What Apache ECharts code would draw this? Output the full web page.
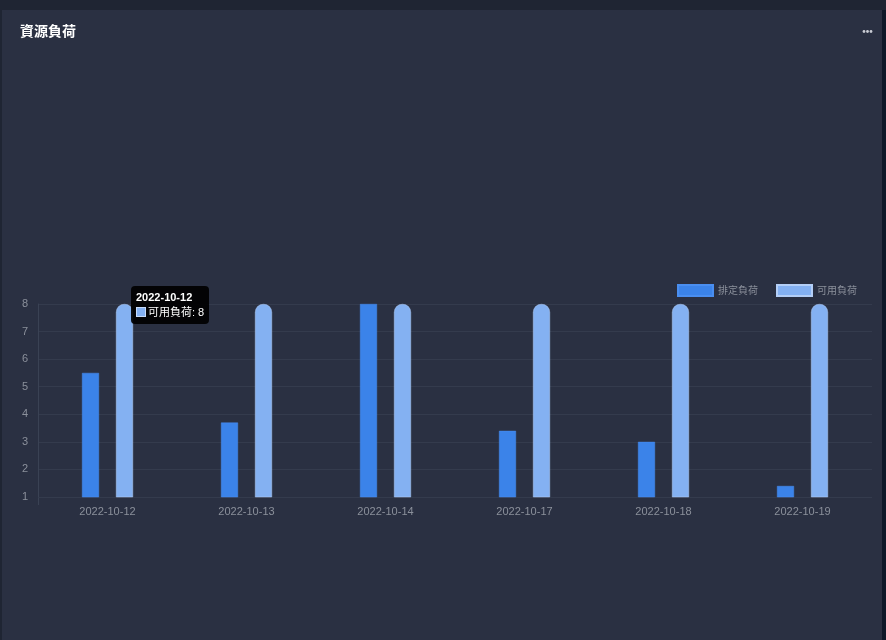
<!DOCTYPE html>
<html>
<head>
<meta charset="utf-8">
<script src="https://cdn.jsdelivr.net/npm/echarts@6/dist/echarts.min.js"></script>
<style>
html,body{margin:0;padding:0;width:886px;height:640px;background:#1f2533;overflow:hidden;}
#card{position:absolute;left:2px;top:10px;width:880px;height:630px;background:#2a3042;}
#edge{position:absolute;left:882px;top:10px;width:4px;height:630px;background:#0e1829;}
#chart{position:absolute;left:0;top:0;width:886px;height:640px;}
</style>
</head>
<body>
<div id="card"></div>
<div id="edge"></div>
<div id="chart"></div>
<script>
const titleText = '資源負荷';
const categories = ['2022-10-12','2022-10-13','2022-10-14','2022-10-17','2022-10-18','2022-10-19'];
const seriesNames = ['排定負荷','可用負荷'];
const scheduled = [5.5, 3.7, 8, 3.4, 3.0, 1.4];
const available = [8, 8, 8, 8, 8, 8];
const yTicks = [1,2,3,4,5,6,7,8];

const chart = echarts.init(document.getElementById('chart'), null, {renderer:'canvas'});
const labelColor = '#8b909b';
const option = {
  backgroundColor: 'transparent',
  animation: false,
  title: {
    text: titleText, left: 20, top: 24, padding: 0,
    textStyle: {color:'#ffffff', fontSize:14, fontWeight:'bold', fontFamily:'"Noto Sans CJK TC", "Noto Sans CJK SC", sans-serif'}
  },
  graphic: [
    {type:'circle', shape:{cx:864, cy:31.5, r:1.4}, style:{fill:'#c9ccd4'}},
    {type:'circle', shape:{cx:867.5, cy:31.5, r:1.4}, style:{fill:'#c9ccd4'}},
    {type:'circle', shape:{cx:871, cy:31.5, r:1.4}, style:{fill:'#c9ccd4'}},
    {type:'line', shape:{x1:38.5,y1:497,x2:38.5,y2:505}, style:{stroke:'#3a4254', lineWidth:1}}
  ],
  legend: {
    right: 24, top: 279,
    itemWidth: 35, itemHeight: 11, itemGap: 18,
    textStyle: {color: labelColor, fontSize: 10, fontFamily:'"Noto Sans CJK TC", sans-serif'},
    data: seriesNames.map(n => ({name:n, icon:'rect'}))
  },
  tooltip: {
    trigger: 'item',
    alwaysShowContent: true,
    backgroundColor: 'rgba(0,0,0,0.92)',
    borderWidth: 0,
    padding: [4,5],
    extraCssText: 'border-radius:4px;box-shadow:none;',
    position: function(){ return [131, 286]; },
    formatter: function(p){
      return '<div style="font-family:\'Liberation Sans\',\'Noto Sans CJK TC\',sans-serif;color:#fff;font-size:11px;line-height:15px;">'
        + '<div style="font-weight:bold;">' + p.name + '</div>'
        + '<div><span style="display:inline-block;width:10px;height:10px;background:#84b1f2;border:1px solid #c8dcfa;box-sizing:border-box;vertical-align:-1px;margin-right:2px;"></span>'
        + p.seriesName + ': ' + p.value + '</div></div>';
    }
  },
  grid: { left: 38, right: 14, top: 304, bottom: 143, containLabel: false },
  xAxis: {
    type: 'category',
    data: categories,
    axisLine: {show: false},
    axisTick: {show: false},
    axisLabel: {color: labelColor, fontSize: 11, margin: 9, fontFamily:'"Liberation Sans", Arial, sans-serif'}
  },
  yAxis: {
    type: 'value',
    min: yTicks[0], max: yTicks[yTicks.length-1], interval: 1,
    axisLine: {show: true, lineStyle: {color: '#3a4254'}},
    axisTick: {show: false},
    axisLabel: {color: labelColor, fontSize: 11, margin: 10, fontFamily:'"Liberation Sans", Arial, sans-serif'},
    splitLine: {lineStyle: {color: '#343b4d'}}
  },
  series: [
    {
      name: seriesNames[0], type: 'bar', data: scheduled,
      barWidth: 17, barGap: '100%',
      itemStyle: {color: '#3b83e9', borderColor:'#4a8ef0', borderWidth: 0.5}
    },
    {
      name: seriesNames[1], type: 'bar', data: available,
      barWidth: 17,
      itemStyle: {color: '#84b1f2', borderColor: '#b4cff7', borderWidth: 0.5, borderRadius: [8,8,0,0]}
    }
  ]
};
chart.setOption(option);
setTimeout(function(){
  chart.dispatchAction({type:'showTip', seriesIndex:1, dataIndex:0});
}, 50);
</script>
</body>
</html>
